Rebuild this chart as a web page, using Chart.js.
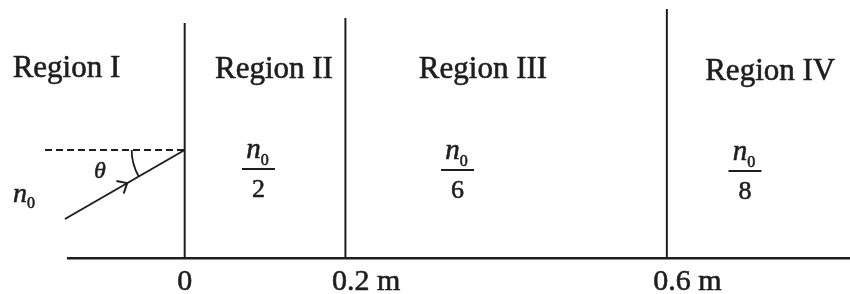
<!DOCTYPE html>
<html>
<head>
<meta charset="utf-8">
<script src="https://cdn.jsdelivr.net/npm/chart.js@4/dist/chart.umd.min.js"></script>
<style>
  html, body { margin: 0; padding: 0; background: #ffffff; }
  #c { display: block; }
</style>
</head>
<body>
<canvas id="c" width="850" height="294"></canvas>
<script>
// ---- data ----
const boundaries = [0, 0.2, 0.6];                 // interface positions (m)
const tickLabels = ['0', '0.2 m', '0.6 m'];
const regions = ['Region I', 'Region II', 'Region III', 'Region IV'];
const indexDenominators = [1, 2, 6, 8];           // refractive index = n0 / d

// ---- layout (positions in chart data units: x in metres, y in drawing units) ----
const layout = {
  xMin: -0.1452, xMax: 0.8279, yMin: 0, yMax: 258,
  boundaryTops: [235, 240, 249],
  regionLabelX: [-0.1471, 0.1111, 0.3712, 0.7286],
  regionLabelY: [181, 180, 180, 178],
  fracX: [null, 0.0918, 0.3395, 0.6972],
  fracY: [null, 89, 88, 87],
  n0X: -0.2137, n0Y: 56,
  thetaX: -0.1054, thetaY: 80,
  rayStart: { x: -0.149, y: 39 },
  rayEnd: { x: 0, y: 108 },
  normalStart: { x: -0.1738, y: 108 },
  arcRadius: 53,
  arrowFrac: 0.52
};

const INK = '#1e1e1e';
const SERIF = '"Liberation Serif", "Times New Roman", serif';

const datasets = [];
boundaries.forEach((b, i) => {
  datasets.push({
    data: [{ x: b, y: 0 }, { x: b, y: layout.boundaryTops[i] }],
    showLine: true, borderColor: INK, borderWidth: 2, pointRadius: 0, clip: false
  });
});
datasets.push({
  data: [layout.rayStart, layout.rayEnd],
  showLine: true, borderColor: INK, borderWidth: 2, pointRadius: 0, clip: false
});
datasets.push({
  data: [layout.normalStart, layout.rayEnd],
  showLine: true, borderColor: INK, borderWidth: 1.8, borderDash: [7, 4], pointRadius: 0, clip: false
});

function heavyText(ctx, s, x, y) {
  ctx.fillText(s, x, y);
  ctx.strokeText(s, x, y);
}

const drawPlugin = {
  id: 'diagramText',
  afterDraw(chart) {
    const ctx = chart.ctx;
    const xs = chart.scales.x, ys = chart.scales.y;
    const px = v => xs.getPixelForValue(v);
    const py = v => ys.getPixelForValue(v);
    ctx.save();
    ctx.fillStyle = INK;
    ctx.strokeStyle = INK;
    ctx.lineJoin = 'round';

    // region labels
    ctx.font = '31px ' + SERIF;
    ctx.textAlign = 'center';
    ctx.textBaseline = 'alphabetic';
    ctx.lineWidth = 0.6;
    regions.forEach((r, i) => {
      heavyText(ctx, r, px(layout.regionLabelX[i]), py(layout.regionLabelY[i]));
    });

    // refractive indices
    indexDenominators.forEach((d, i) => {
      ctx.lineWidth = 0.6;
      if (d === 1) {
        const x0 = px(layout.n0X), y0 = py(layout.n0Y);
        ctx.textAlign = 'left';
        ctx.font = 'italic 28px ' + SERIF;
        heavyText(ctx, 'n', x0, y0);
        const wn = ctx.measureText('n').width;
        ctx.font = '16px ' + SERIF;
        heavyText(ctx, '0', x0 + wn, y0 + 6);
        return;
      }
      const cx = px(layout.fracX[i]), by = py(layout.fracY[i]);
      ctx.font = 'italic 29px ' + SERIF;
      const wn = ctx.measureText('n').width;
      ctx.font = '16px ' + SERIF;
      const w0 = ctx.measureText('0').width;
      const start = cx - (wn + w0) / 2 - 1;
      ctx.textAlign = 'left';
      ctx.font = 'italic 29px ' + SERIF;
      heavyText(ctx, 'n', start, by - 11);
      ctx.font = '16px ' + SERIF;
      heavyText(ctx, '0', start + wn, by - 4);
      ctx.lineWidth = 2;
      ctx.beginPath();
      ctx.moveTo(cx - 16.5, by);
      ctx.lineTo(cx + 16.5, by);
      ctx.stroke();
      ctx.lineWidth = 0.6;
      ctx.textAlign = 'center';
      ctx.font = '26px ' + SERIF;
      heavyText(ctx, String(d), cx, by + 28);
    });

    // theta
    ctx.textAlign = 'center';
    ctx.font = 'italic 24px ' + SERIF;
    ctx.lineWidth = 0.5;
    heavyText(ctx, '\u03B8', px(layout.thetaX), py(layout.thetaY));

    // angle arc
    const ex = px(layout.rayEnd.x), ey = py(layout.rayEnd.y);
    const sx = px(layout.rayStart.x), sy = py(layout.rayStart.y);
    const back = Math.atan2(sy - ey, sx - ex);
    ctx.lineWidth = 1.8;
    ctx.beginPath();
    ctx.arc(ex, ey, layout.arcRadius, Math.PI, back, true);
    ctx.stroke();

    // arrowhead on ray
    const tx = sx + (ex - sx) * layout.arrowFrac, ty = sy + (ey - sy) * layout.arrowFrac;
    const L = 11, spread = 0.72;
    ctx.lineWidth = 2;
    ctx.beginPath();
    ctx.moveTo(tx + L * Math.cos(back + spread), ty + L * Math.sin(back + spread));
    ctx.lineTo(tx, ty);
    ctx.lineTo(tx + L * Math.cos(back - spread), ty + L * Math.sin(back - spread));
    ctx.stroke();

    // x tick labels
    ctx.font = '30px ' + SERIF;
    ctx.textAlign = 'left';
    ctx.lineWidth = 0.6;
    const baseY = chart.chartArea.bottom + 32;
    xs.ticks.forEach((t, i) => {
      const label = tickLabels[i];
      const cw = ctx.measureText(label[0]).width;
      const left = px(t.value) - cw / 2 - (label.length > 1 ? 6 : 0);
      heavyText(ctx, label, left, baseY);
    });
    ctx.restore();
  }
};

new Chart(document.getElementById('c'), {
  type: 'scatter',
  data: { datasets },
  options: {
    responsive: false,
    animation: false,
    layout: { padding: { left: 68, top: 0, right: 0, bottom: 0 } },
    plugins: { legend: { display: false }, tooltip: { enabled: false } },
    scales: {
      x: {
        type: 'linear', min: layout.xMin, max: layout.xMax,
        grid: { display: false },
        border: { display: true, color: INK, width: 2.5 },
        ticks: { display: false },
        afterBuildTicks: s => { s.ticks = boundaries.map(v => ({ value: v })); },
        afterFit: s => { s.height = 36; }
      },
      y: { type: 'linear', min: layout.yMin, max: layout.yMax, display: false }
    }
  },
  plugins: [drawPlugin]
});
</script>
</body>
</html>
